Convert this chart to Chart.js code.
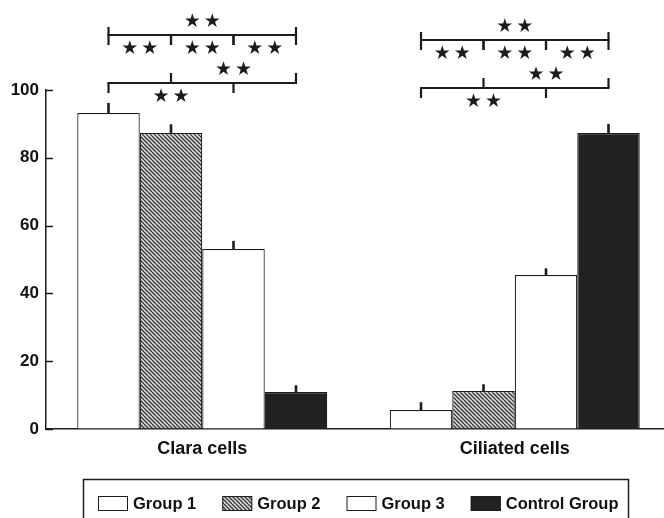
<!DOCTYPE html>
<html><head><meta charset="utf-8">
<script src="https://cdn.jsdelivr.net/npm/chart.js@4"></script>
<style>html,body{margin:0;padding:0;background:#fff;overflow:hidden;width:664px;height:518px}
#wrap{width:672px;height:518px;position:relative}</style>
</head><body><div id="wrap"><canvas id="c" width="672" height="518"></canvas></div>
<script>
const categories = ['Clara cells', 'Ciliated cells'];
const seriesNames = ['Group 1', 'Group 2', 'Group 3', 'Control Group'];
const group1 = [93.2, 5.6];
const group2 = [87.3, 11.2];
const group3 = [53.1, 45.4];
const control = [10.9, 87.3];
const err1 = [3.0, 2.3];
const err2 = [2.6, 2.0];
const err3 = [2.4, 2.0];
const errC = [2.0, 2.7];
const yTicks = [0, 20, 40, 60, 80, 100];
// significance bracket rows (y value of the bracket line) per category
const rowLevelA = [116.2, 114.7];
const rowLevelB = [102.1, 100.6];
const starsLabel = '★★';
// [row, first group, second group, side of the stars]
const comparisons = [
  ['A', 0, 3, 'above'], ['A', 0, 1, 'below'], ['A', 1, 2, 'below'], ['A', 2, 3, 'below'],
  ['B', 0, 2, 'below'], ['B', 1, 3, 'above']
];

const INK = '#1c1c1c';
const FONT = '"Liberation Sans", Arial, sans-serif';

function makeHatch() {
  const p = document.createElement('canvas');
  p.width = 8; p.height = 8;
  const g = p.getContext('2d');
  g.fillStyle = '#d9d9d9'; g.fillRect(0, 0, 8, 8);
  g.strokeStyle = '#3a3a3a'; g.lineWidth = 1.3;
  for (let x = -8; x <= 8; x += 4) { g.beginPath(); g.moveTo(x, 0); g.lineTo(x + 8, 8); g.stroke(); }
  return document.getElementById('c').getContext('2d').createPattern(p, 'repeat');
}
const hatch = makeHatch();

function drawStars(ctx, cx, cy) {
  ctx.font = '19px "DejaVu Sans"';
  ctx.textAlign = 'center'; ctx.textBaseline = 'middle';
  const chars = Array.from(starsLabel);
  const step = 20;
  chars.forEach((ch, k) => ctx.fillText(ch, cx + (k - (chars.length - 1) / 2) * step, cy));
}

const sigPlugin = {
  id: 'sig',
  afterDatasetsDraw(chart) {
    const ctx = chart.ctx, y = chart.scales.y;
    ctx.save();
    ctx.strokeStyle = INK; ctx.fillStyle = INK; ctx.lineCap = 'butt';
    // error bars
    chart.data.datasets.forEach((ds, i) => {
      chart.getDatasetMeta(i).data.forEach((bar, j) => {
        const v = ds.data[j], e = ds.errors[j];
        ctx.lineWidth = 2.6;
        ctx.beginPath();
        ctx.moveTo(bar.x, y.getPixelForValue(v));
        ctx.lineTo(bar.x, y.getPixelForValue(v + e));
        ctx.stroke();
      });
    });
    // significance brackets
    categories.forEach((cat, j) => {
      const xs = chart.data.datasets.map((ds, i) => chart.getDatasetMeta(i).data[j].x);
      const levels = { A: rowLevelA[j], B: rowLevelB[j] };
      ['A', 'B'].forEach(r => {
        const comps = comparisons.filter(c => c[0] === r);
        const ly = Math.round(y.getPixelForValue(levels[r]));
        const gmin = Math.min(...comps.map(c => c[1]));
        const gmax = Math.max(...comps.map(c => c[2]));
        ctx.lineWidth = 2.2;
        ctx.beginPath(); ctx.moveTo(xs[gmin] - 1, ly); ctx.lineTo(xs[gmax] + 1, ly); ctx.stroke();
        comps.forEach(c => {
          const dir = c[3] === 'above' ? -1 : 1;
          const tl = (r === 'A' && dir < 0) ? 8 : 10;
          [c[1], c[2]].forEach(g => {
            ctx.beginPath(); ctx.moveTo(xs[g], ly); ctx.lineTo(xs[g], ly + dir * tl); ctx.stroke();
          });
          const mx = (xs[c[1]] + xs[c[2]]) / 2;
          const sy = ly + dir * (dir < 0 ? 13 : 14);
          drawStars(ctx, mx, sy);
        });
      });
    });
    ctx.restore();
  },
  afterDraw(chart) {
    const ctx = chart.ctx, y = chart.scales.y, a = chart.chartArea;
    ctx.save();
    ctx.strokeStyle = INK; ctx.lineWidth = 1.5;
    // inward tick marks on the y axis
    y.ticks.forEach(t => {
      const py = Math.round(y.getPixelForValue(t.value)) + 0.5;
      ctx.beginPath(); ctx.moveTo(a.left, py); ctx.lineTo(a.left + 7, py); ctx.stroke();
    });
    // legend box
    ctx.lineWidth = 1.5;
    ctx.strokeRect(83.5, 479.5, 545, 60);
    let x = 98;
    const sy = 496, sw = 30, sh = 15;
    ctx.font = 'bold 16.5px ' + FONT;
    ctx.textAlign = 'left'; ctx.textBaseline = 'middle';
    chart.data.datasets.forEach(ds => {
      ctx.fillStyle = ds.backgroundColor;
      ctx.fillRect(x, sy, sw, sh);
      ctx.lineWidth = 1;
      ctx.strokeStyle = INK;
      ctx.strokeRect(x + 0.5, sy + 0.5, sw - 1, sh - 1);
      ctx.fillStyle = '#111';
      ctx.fillText(ds.label, x + sw + 5, sy + sh / 2 + 1);
      x += sw + 5 + ctx.measureText(ds.label).width + 26;
    });
    ctx.restore();
  }
};

new Chart(document.getElementById('c'), {
  type: 'bar',
  data: {
    labels: categories,
    datasets: [
      { label: seriesNames[0], data: group1, errors: err1, backgroundColor: '#ffffff', borderColor: INK, borderWidth: 1.2 },
      { label: seriesNames[1], data: group2, errors: err2, backgroundColor: hatch, borderColor: INK, borderWidth: 1.2 },
      { label: seriesNames[2], data: group3, errors: err3, backgroundColor: '#ffffff', borderColor: INK, borderWidth: 1.2 },
      { label: seriesNames[3], data: control, errors: errC, backgroundColor: '#222222', borderColor: INK, borderWidth: 1.2 }
    ]
  },
  options: {
    responsive: false,
    animation: false,
    categoryPercentage: 0.8,
    barPercentage: 1.0,
    layout: { padding: { top: 90, left: 0, right: 1, bottom: 0 } },
    plugins: { legend: { display: false }, tooltip: { enabled: false } },
    scales: {
      x: {
        grid: { display: true, drawOnChartArea: false, drawTicks: false },
        border: { display: true, color: INK, width: 1.5 },
        ticks: { font: { family: FONT, size: 18, weight: 'bold' }, color: '#111', padding: 9 },
        afterFit(s) { s.height = 89; }
      },
      y: {
        min: 0, max: 100,
        afterBuildTicks(s) { s.ticks = yTicks.map(v => ({ value: v })); },
        grid: { display: true, drawOnChartArea: false, drawTicks: false },
        border: { display: true, color: INK, width: 1.5 },
        ticks: { font: { family: FONT, size: 17, weight: 'bold' }, color: '#111', padding: 7 },
        afterFit(s) { s.width = 46; }
      }
    }
  },
  plugins: [sigPlugin]
});
</script>
</body></html>
